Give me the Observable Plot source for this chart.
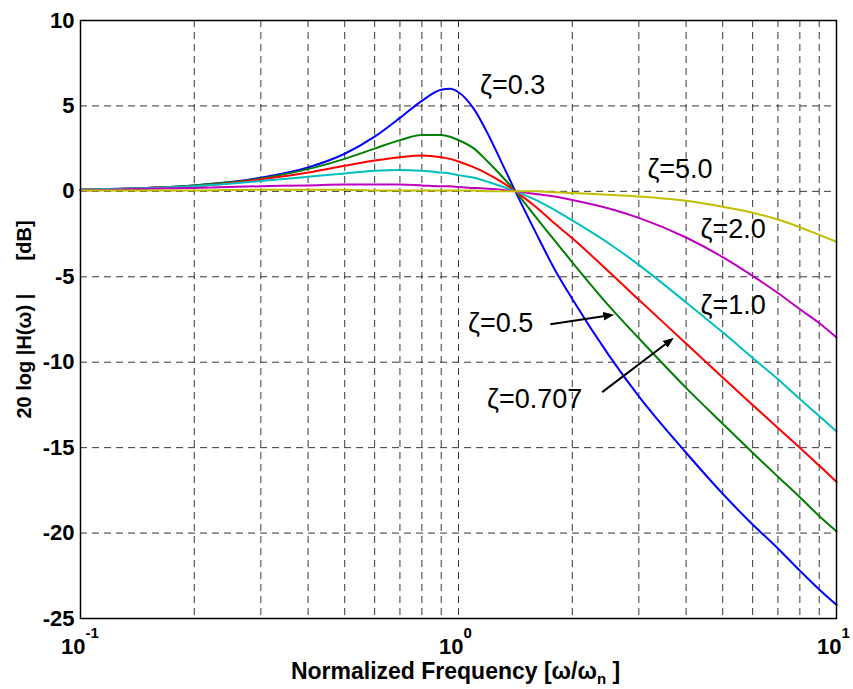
<!DOCTYPE html>
<html>
<head>
<meta charset="utf-8">
<script src="https://cdn.jsdelivr.net/npm/d3@7"></script>
<script src="https://cdn.jsdelivr.net/npm/@observablehq/plot@0.6"></script>
<style>
  html, body { margin: 0; padding: 0; background: #fff; }
  #chart svg { display: block; }
</style>
</head>
<body>
<div id="chart"></div>
<script>
// Normalized frequency samples (ω/ωn)
const freq = [0.1,0.15,0.2,0.3,0.4,0.5,0.6,0.7,0.8,0.9,0.95,1.0,1.1,1.2,1.3,1.414,1.6,1.8,2,2.5,3,4,5,6,7,8,9,10];

// 20 log |H(ω)| [dB], one array per damping ratio
const z03   = [0.1,0.2,0.35,0.8,1.4,2.2,3.2,4.3,5.3,5.95,6.0,5.8,4.8,3.3,1.7,0,-2.4,-4.6,-6.3,-9.6,-12.0,-15.3,-17.7,-19.5,-20.9,-22.2,-23.3,-24.2];
const z05   = [0.1,0.2,0.35,0.75,1.3,1.9,2.5,3.0,3.3,3.3,3.2,3.0,2.5,1.7,0.9,0,-1.5,-2.9,-4.15,-6.7,-8.6,-11.5,-13.6,-15.3,-16.7,-17.9,-19.0,-19.9];
const z0707 = [0.1,0.2,0.3,0.7,1.1,1.5,1.8,2.0,2.1,2.0,1.9,1.75,1.4,1.0,0.55,0,-0.9,-1.9,-2.75,-4.7,-6.35,-8.9,-10.9,-12.5,-13.85,-15.0,-16.05,-17.0];
const z1    = [0.1,0.2,0.3,0.6,0.85,1.05,1.2,1.25,1.2,1.1,1.05,0.95,0.8,0.55,0.3,0,-0.5,-1.1,-1.7,-3.05,-4.3,-6.5,-8.25,-9.75,-11.0,-12.15,-13.15,-14.05];
const z2    = [0.05,0.15,0.2,0.3,0.35,0.4,0.4,0.4,0.35,0.3,0.3,0.25,0.2,0.15,0.1,0,-0.15,-0.3,-0.5,-1.0,-1.55,-2.7,-3.85,-4.95,-5.95,-6.9,-7.7,-8.55];
const z5    = [0.05,0.05,0.05,0.1,0.1,0.1,0.05,0.05,0.05,0.05,0.05,0.05,0.05,0,0,0,0,-0.05,-0.1,-0.2,-0.3,-0.55,-0.9,-1.25,-1.65,-2.1,-2.55,-2.95];

const seriesNames  = ["0.3","0.5","0.707","1.0","2.0","5.0"];
const seriesValues = [z03, z05, z0707, z1, z2, z5];
const seriesColors = ["#0000ff","#008000","#ff0000","#00bfbf","#bf00bf","#bfbf00"];

// Axis ticks and grid
const yTicks = [-25,-20,-15,-10,-5,0,5,10];
const yGrid = [-20,-15,-10,-5,0,5];
const xTicks = [0.1, 1, 10];
const xTickExp = ["-1","0","1"];
const xGrid = [0.2,0.3,0.4,0.5,0.6,0.7,0.8,0.9,1,2,3,4,5,6,7,8,9];

// Annotations
const labelText = ["ζ=0.3","ζ=5.0","ζ=2.0","ζ=1.0","ζ=0.5","ζ=0.707"];
const labelX = [1.14, 3.16, 4.37, 4.37, 1.06, 1.19];
const labelY = [5.67, 0.76, -2.75, -7.19, -8.25, -12.69];

const arrowX1 = [1.75, 2.40];
const arrowY1 = [-7.78, -11.75];
const arrowX2 = [2.52, 3.64];
const arrowY2 = [-7.25, -8.71];

const xTitle = "Normalized Frequency [ω/ωn ]";
const yTitle = "20 log |H(ω) |\u00a0\u00a0\u00a0\u00a0\u00a0\u00a0[dB]";

// Build tables
const rows = [];
seriesNames.forEach((name, s) => {
  freq.forEach((f, i) => rows.push({zeta: name, f, db: seriesValues[s][i]}));
});
const labels = labelText.map((t, i) => ({t, x: labelX[i], y: labelY[i]}));
const arrows = arrowX1.map((_, i) => ({x1: arrowX1[i], y1: arrowY1[i], x2: arrowX2[i], y2: arrowY2[i]}));

const chart = Plot.plot({
  width: 853,
  height: 689,
  marginLeft: 80,
  marginRight: 17,
  marginTop: 20,
  marginBottom: 71,
  style: {fontFamily: "'Liberation Sans', Arial, sans-serif", fontSize: "22px", fontWeight: "bold", color: "black", background: "white"},
  x: {type: "log", domain: [0.1, 10], axis: null},
  y: {domain: [-25, 10], axis: null},
  color: {domain: seriesNames, range: seriesColors},
  marks: [
    Plot.ruleX(xGrid, {x: d => d, stroke: "#222", strokeWidth: 1, strokeDasharray: "7,5", strokeOpacity: 0.9}),
    Plot.ruleY(yGrid, {y: d => d, stroke: "#222", strokeWidth: 1, strokeDasharray: "7,5", strokeOpacity: 0.9}),
    Plot.axisY({ticks: yTicks, tickSize: 0, tickPadding: 6, tickFormat: d => String(d), fontSize: 22, fontWeight: "bold"}),
    Plot.text(xTicks, {x: d => d, text: () => "10", frameAnchor: "bottom", textAnchor: "end", lineAnchor: "bottom", dx: 5, dy: 35, fontSize: 22, fontWeight: "bold", fill: "black"}),
    Plot.text(xTicks, {x: d => d, text: (d, i) => xTickExp[i], frameAnchor: "bottom", textAnchor: "start", lineAnchor: "bottom", dx: 5, dy: 19, fontSize: 15, fontWeight: "bold", fill: "black"}),
    Plot.line(rows, {x: "f", y: "db", z: "zeta", stroke: "zeta", strokeWidth: 2, curve: "monotone-x"}),
    Plot.frame({stroke: "black", strokeWidth: 1.5}),
    Plot.text(labels, {x: "x", y: "y", text: "t", textAnchor: "start", lineAnchor: "bottom", fontSize: 27, fontWeight: "normal", fill: "black"}),
    Plot.link(arrows, {x1: "x1", y1: "y1", x2: "x2", y2: "y2", stroke: "black", strokeWidth: 2, markerEnd: "arrow"}),
    Plot.text([xTitle], {text: d => d, frameAnchor: "bottom", lineAnchor: "bottom", dx: -3, dy: 60, fontSize: 23, fontWeight: "bold", fill: "black"}),
    Plot.text([yTitle], {text: d => d, frameAnchor: "left", rotate: -90, textAnchor: "middle", lineAnchor: "middle", dx: -56, fontSize: 20, fontWeight: "bold", fill: "black"})
  ]
});

// filled arrowheads
chart.querySelectorAll("marker").forEach(m => {
  m.setAttribute("fill", "black");
  m.setAttribute("stroke", "none");
  const p = m.querySelector("path");
  if (p) p.setAttribute("d", "M-6,-3.5L3,0L-6,3.5Z");
});

// subscript n in the x title
chart.querySelectorAll("text").forEach(t => {
  if (t.textContent === xTitle) {
    t.innerHTML = 'Normalized Frequency [ω/ω<tspan dy="5" font-size="15">n</tspan><tspan dy="-5"> ]</tspan>';
  }
});

document.getElementById("chart").appendChild(chart);
</script>
</body>
</html>
